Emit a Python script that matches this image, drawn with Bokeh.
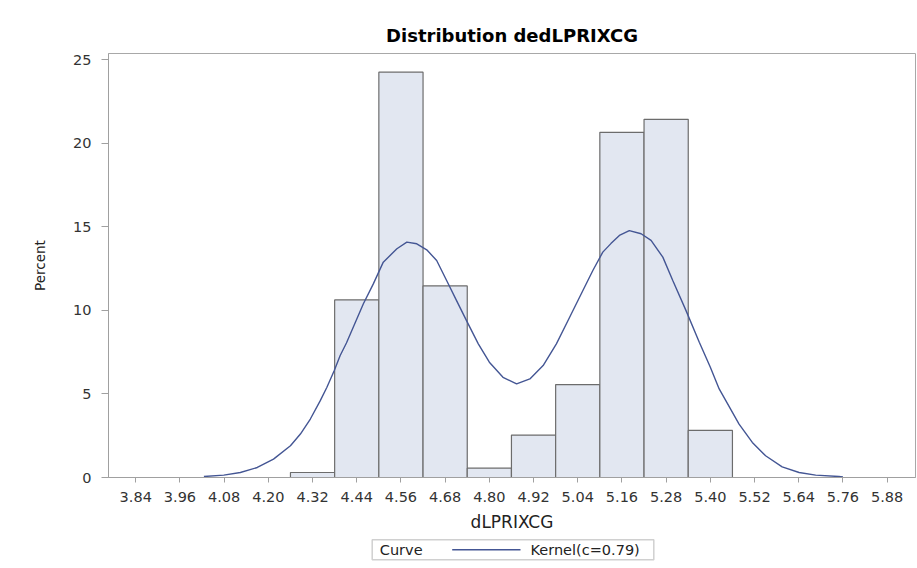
from bokeh.plotting import figure
from bokeh.models import Range1d, FixedTicker, ColumnDataSource
from bokeh.layouts import column
from bokeh.core.properties import value
from bokeh.embed import file_html
from bokeh.resources import INLINE

# ---- data ----
bin_centers = [4.32, 4.44, 4.56, 4.68, 4.80, 4.92, 5.04, 5.16, 5.28, 5.40]
bin_percent = [0.30, 10.63, 24.26, 11.47, 0.56, 2.54, 5.56, 20.66, 21.44, 2.82]
bin_width = 0.12

kernel_x = [4.025, 4.079, 4.124, 4.170, 4.214, 4.260, 4.287, 4.314, 4.341, 4.359, 4.379,
            4.395, 4.412, 4.458, 4.485, 4.512, 4.549, 4.576, 4.603, 4.630, 4.657, 4.684,
            4.711, 4.738, 4.770, 4.800, 4.837, 4.874, 4.910, 4.946, 4.982, 5.018, 5.054,
            5.081, 5.108, 5.130, 5.153, 5.180, 5.212, 5.239, 5.271, 5.298, 5.334, 5.370,
            5.400, 5.424, 5.442, 5.478, 5.514, 5.550, 5.595, 5.641, 5.686, 5.749, 5.760]
kernel_y = [0.06, 0.14, 0.30, 0.60, 1.10, 1.90, 2.60, 3.50, 4.60, 5.40, 6.40,
            7.30, 8.05, 10.40, 11.59, 12.89, 13.69, 14.09, 13.99, 13.63, 12.99, 11.79,
            10.59, 9.39, 8.00, 6.90, 6.00, 5.60, 5.90, 6.70, 8.00, 9.59, 11.19,
            12.39, 13.49, 14.00, 14.49, 14.78, 14.59, 14.19, 13.19, 11.79, 9.99, 8.10,
            6.60, 5.30, 4.60, 3.20, 2.10, 1.30, 0.64, 0.30, 0.14, 0.06, 0.03]

x_ticks = [3.84, 3.96, 4.08, 4.20, 4.32, 4.44, 4.56, 4.68, 4.80, 4.92, 5.04, 5.16, 5.28,
           5.40, 5.52, 5.64, 5.76, 5.88]
x_tick_labels = ["3.84", "3.96", "4.08", "4.20", "4.32", "4.44", "4.56", "4.68", "4.80",
                 "4.92", "5.04", "5.16", "5.28", "5.40", "5.52", "5.64", "5.76", "5.88"]
y_ticks = [0, 5, 10, 15, 20, 25]

title_text = "Distribution dedLPRIXCG"
x_label = "dLPRIXCG"
y_label = "Percent"
legend_title = "Curve"
legend_label = "Kernel(c=0.79)"

FONT = "DejaVu Sans"
CURVE_COLOR = "#445694"

# ---------------- main chart ----------------
p = figure(width=917, height=537, output_backend="svg", toolbar_location=None,
           x_range=Range1d(3.766, 5.957), y_range=Range1d(0, 25.38),
           min_border_left=108, min_border_right=2, min_border_top=53, min_border_bottom=60)

p.title.text = title_text
p.title.align = "center"
p.title.text_font = FONT
p.title.text_font_style = "bold"
p.title.text_font_size = "18px"
p.title.text_color = "#000000"
p.title.standoff = 16

p.xgrid.visible = False
p.ygrid.visible = False
p.outline_line_color = "#a8a8a8"
p.background_fill_color = "white"
p.border_fill_color = "white"

src = ColumnDataSource(dict(x=bin_centers, top=bin_percent))
p.vbar(x="x", top="top", width=bin_width, bottom=0, source=src,
       fill_color="#e2e7f1", line_color="#6c6c6c", line_width=1.2)

p.line(kernel_x, kernel_y, line_color=CURVE_COLOR, line_width=1.4)

p.xaxis.ticker = FixedTicker(ticks=x_ticks)
p.xaxis.major_label_overrides = {t: l for t, l in zip(x_ticks, x_tick_labels)}
p.yaxis.ticker = FixedTicker(ticks=y_ticks)
p.xaxis.minor_tick_line_color = None
p.yaxis.minor_tick_line_color = None
for ax in (p.xaxis, p.yaxis):
    ax.axis_line_color = "#a0a0a0"
    ax.major_tick_line_color = "#a0a0a0"
    ax.major_tick_in = 0
    ax.major_label_text_font = FONT
    ax.major_label_text_font_size = "14.5px"
    ax.major_label_text_color = "#333333"
    ax.axis_label_text_font = FONT
    ax.axis_label_text_font_style = "normal"
    ax.axis_label_text_color = "#222222"
p.xaxis.major_tick_out = 5
p.yaxis.major_tick_out = 7
p.xaxis.major_label_standoff = 9
p.yaxis.major_label_standoff = 10
p.xaxis.axis_label = x_label
p.yaxis.axis_label = y_label
p.xaxis.axis_label_text_font_size = "17px"
p.yaxis.axis_label_text_font_size = "13.5px"
p.xaxis.axis_label_standoff = 7
p.yaxis.axis_label_standoff = 22

# ---------------- legend strip (frame aligned with the main chart's frame) ----------------
lg = figure(width=917, height=31, output_backend="svg", toolbar_location=None,
            x_range=Range1d(108, 915), y_range=Range1d(0, 31),
            min_border=0, min_border_left=0, min_border_right=0,
            min_border_top=0, min_border_bottom=0)
lg.axis.visible = False
lg.grid.visible = False
lg.outline_line_color = None
lg.background_fill_color = "white"
lg.border_fill_color = "white"

lg.quad(left=[371.7], right=[653.3], bottom=[8.7], top=[28.7],
        fill_color="white", line_color="#d0d0d0", line_width=1.5)
lg.segment(x0=[451.7], y0=[18.7], x1=[520.0], y1=[18.7],
           line_color=CURVE_COLOR, line_width=1.4)
lg.text(x=[379.3], y=[18.7], text=[legend_title], text_font=value(FONT),
        text_font_size="14.5px", text_color="#222222",
        text_align="left", text_baseline="middle")
lg.text(x=[530.0], y=[18.7], text=[legend_label], text_font=value(FONT),
        text_font_size="14.5px", text_color="#222222",
        text_align="left", text_baseline="middle")

layout = column(p, lg, spacing=0)

open("out.html", "w").write(file_html(layout, INLINE))
